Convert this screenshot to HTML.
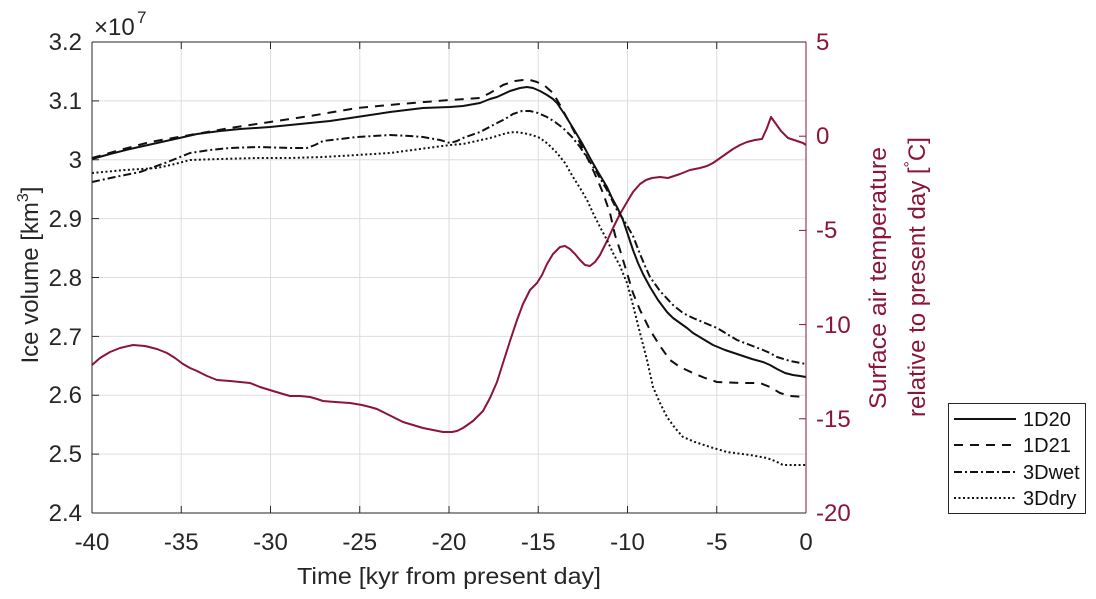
<!DOCTYPE html>
<html><head><meta charset="utf-8"><style>
html,body{margin:0;padding:0;background:#fff;}
svg{display:block;font-family:"Liberation Sans",Arial,sans-serif;}
</style></head><body>
<svg width="1096" height="599" viewBox="0 0 1096 599" xmlns="http://www.w3.org/2000/svg">
<rect width="1096" height="599" fill="#fff"/>
<!-- grid -->
<g stroke="#dedede" stroke-width="1">
<line x1="181.25" y1="42" x2="181.25" y2="513"/><line x1="270.5" y1="42" x2="270.5" y2="513"/>
<line x1="359.75" y1="42" x2="359.75" y2="513"/><line x1="449" y1="42" x2="449" y2="513"/>
<line x1="538.25" y1="42" x2="538.25" y2="513"/><line x1="627.5" y1="42" x2="627.5" y2="513"/>
<line x1="716.75" y1="42" x2="716.75" y2="513"/>
<line x1="92" y1="100.9" x2="806" y2="100.9"/><line x1="92" y1="159.75" x2="806" y2="159.75"/>
<line x1="92" y1="218.6" x2="806" y2="218.6"/><line x1="92" y1="277.5" x2="806" y2="277.5"/>
<line x1="92" y1="336.4" x2="806" y2="336.4"/><line x1="92" y1="395.25" x2="806" y2="395.25"/>
<line x1="92" y1="454.1" x2="806" y2="454.1"/>
</g>
<!-- series -->
<g fill="none" stroke-linejoin="round" stroke-width="2">
<polyline stroke="#8a1538" points="92,365 100,358 110,352 120,348 133,345 145,346 157,349 167,353 175,358 183,364 190,368 197,371 207,376 217,380 230,381 240,382 250,383 260,387 273,391 283,394 290,396 300,396 310,397 317,399 323,401 335,402 350,403 362,405 370,407 377,409 383,412 393,417 403,422 413,425 423,428 433,430 443,432 452,432 457,431 463,428 473,421 483,411 490,398 497,382 503,363 510,341 517,320 523,304 530,290 537,283 542,275 547,264 553,254 560,247 565,246 570,249 575,254 580,260 585,265 590,266 595,262 600,255 607,241 613,228 620,214 627,202 633,192 640,184 646,180 652,178 660,177 668,178 680,174 690,170 700,168 707,166 713,163 723,156 733,149 740,145 747,142 755,140 762,139 767,128 771,117 776,124 781,131 788,138 797,141 803,143 806,145"/>
<polyline stroke="#111" points="92,159 110,154 130,149 157,143 175,139 197,134 220,131 240,129 270,127 300,124 330,121 357,117 390,112 423,108 450,107 463,106 480,103 490,99 497,97 510,91 520,88 527,87 533,88 540,91 547,95 553,99 557,103 565,115 573,128 582,143 590,158 598,172 607,187 612,198 618,209 623,220 628,235 633,250 638,263 643,274 650,287 658,300 667,312 673,318 680,323 687,328 693,333 703,339 713,345 725,350 740,355 752,359 763,362 770,365 777,369 785,373 793,375 800,376 806,377"/>
<polyline stroke="#111" stroke-dasharray="9 7" points="92,158 120,150 150,142 190,135 230,128 270,122 310,116 357,108 400,104 450,100 480,98 490,93 503,85 515,81 523,80 530,80 537,82 545,86 553,93 560,105 567,118 577,137 585,153 593,170 598,181 603,193 610,213 615,235 620,250 627,273 633,293 640,310 650,330 660,346 670,360 680,367 693,373 705,378 717,382 740,383 760,383 770,387 780,393 790,396 806,397"/>
<polyline stroke="#111" stroke-dasharray="8 3 2 3" points="92,182 115,177 140,172 165,163 190,153 210,150 230,148 257,147 290,148 307,148 315,145 323,141 340,139 357,137 390,135 410,136 423,137 440,140 450,143 457,141 463,138 480,132 497,123 505,119 513,114 522,111 530,111 538,113 547,117 555,122 563,128 572,137 580,147 588,159 597,173 607,190 617,210 625,222 633,236 640,254 645,266 650,277 660,291 673,305 683,313 693,318 705,323 717,328 727,334 737,340 750,345 763,350 770,353 777,357 790,361 806,364"/>
<polyline stroke="#111" stroke-dasharray="2 2.5" points="92,173 125,170 157,168 175,164 190,160 220,159 257,158 290,158 323,157 357,155 390,153 420,149 450,145 463,144 490,138 507,133 515,132 523,133 532,135 540,138 548,144 557,153 565,163 573,177 580,188 587,200 593,213 600,227 607,240 613,253 620,266 627,283 633,305 640,333 647,360 653,387 660,403 667,417 675,428 683,437 695,442 710,447 727,452 750,455 767,458 775,461 783,465 795,465 806,465"/>
</g>
<!-- axes -->
<g stroke="#262626" stroke-width="1" fill="none">
<line x1="92" y1="42" x2="806" y2="42"/>
<line x1="92" y1="513" x2="806" y2="513"/>
<line x1="92" y1="42" x2="92" y2="513"/>
<line x1="92" y1="100.9" x2="99" y2="100.9"/><line x1="92" y1="159.75" x2="99" y2="159.75"/>
<line x1="92" y1="218.6" x2="99" y2="218.6"/><line x1="92" y1="277.5" x2="99" y2="277.5"/>
<line x1="92" y1="336.4" x2="99" y2="336.4"/><line x1="92" y1="395.25" x2="99" y2="395.25"/>
<line x1="92" y1="454.1" x2="99" y2="454.1"/>
<line x1="181.25" y1="513" x2="181.25" y2="506"/><line x1="270.5" y1="513" x2="270.5" y2="506"/>
<line x1="359.75" y1="513" x2="359.75" y2="506"/><line x1="449" y1="513" x2="449" y2="506"/>
<line x1="538.25" y1="513" x2="538.25" y2="506"/><line x1="627.5" y1="513" x2="627.5" y2="506"/>
<line x1="716.75" y1="513" x2="716.75" y2="506"/>
<line x1="181.25" y1="42" x2="181.25" y2="49"/><line x1="270.5" y1="42" x2="270.5" y2="49"/>
<line x1="359.75" y1="42" x2="359.75" y2="49"/><line x1="449" y1="42" x2="449" y2="49"/>
<line x1="538.25" y1="42" x2="538.25" y2="49"/><line x1="627.5" y1="42" x2="627.5" y2="49"/>
<line x1="716.75" y1="42" x2="716.75" y2="49"/>
</g>
<g stroke="#8a1538" stroke-width="1">
<line x1="806" y1="42" x2="806" y2="513"/>
<line x1="806" y1="136.2" x2="799" y2="136.2"/><line x1="806" y1="230.4" x2="799" y2="230.4"/>
<line x1="806" y1="324.6" x2="799" y2="324.6"/><line x1="806" y1="418.8" x2="799" y2="418.8"/>
</g>
<!-- left tick labels -->
<g fill="#262626" font-size="24" text-anchor="end">
<text x="82" y="50">3.2</text><text x="82" y="109">3.1</text><text x="82" y="168">3</text>
<text x="82" y="227">2.9</text><text x="82" y="286">2.8</text><text x="82" y="345">2.7</text>
<text x="82" y="403">2.6</text><text x="82" y="462">2.5</text><text x="82" y="521">2.4</text>
</g>
<!-- bottom tick labels -->
<g fill="#262626" font-size="24" text-anchor="middle">
<text x="92" y="550">-40</text><text x="181.25" y="550">-35</text><text x="270.5" y="550">-30</text>
<text x="359.75" y="550">-25</text><text x="449" y="550">-20</text><text x="538.25" y="550">-15</text>
<text x="627.5" y="550">-10</text><text x="716.75" y="550">-5</text><text x="806" y="550">0</text>
</g>
<text x="449" y="584" font-size="23" fill="#262626" text-anchor="middle" textLength="304" lengthAdjust="spacingAndGlyphs">Time [kyr from present day]</text>
<!-- exponent -->
<text x="94" y="35" font-size="24" fill="#262626">×10</text>
<text x="137" y="23" font-size="17" fill="#262626">7</text>
<!-- right tick labels -->
<g fill="#8a1538" font-size="24">
<text x="816" y="50">5</text><text x="816" y="144">0</text><text x="816" y="238">-5</text>
<text x="816" y="333">-10</text><text x="816" y="427">-15</text><text x="816" y="521">-20</text>
</g>
<!-- y labels -->
<text transform="translate(38,275) rotate(-90)" font-size="24" fill="#262626" text-anchor="middle">Ice volume [km<tspan dy="-10" font-size="16">3</tspan><tspan dy="10">]</tspan></text>
<text transform="translate(886,278) rotate(-90)" font-size="24" fill="#8a1538" text-anchor="middle" textLength="262" lengthAdjust="spacingAndGlyphs">Surface air temperature</text>
<text transform="translate(925,277) rotate(-90)" font-size="24" fill="#8a1538" text-anchor="middle">relative to present day [<tspan dy="-10" font-size="16">°</tspan><tspan dy="10">C]</tspan></text>
<!-- legend -->
<rect x="948.5" y="403.5" width="137" height="110" fill="#fff" stroke="#262626" stroke-width="1"/>
<g fill="none" stroke="#111" stroke-width="2">
<line x1="954" y1="419" x2="1016" y2="419"/>
<line x1="954" y1="445" x2="1016" y2="445" stroke-dasharray="9 7"/>
<line x1="954" y1="472" x2="1016" y2="472" stroke-dasharray="8 3 2 3"/>
<line x1="954" y1="498" x2="1016" y2="498" stroke-dasharray="2 2.5"/>
</g>
<g fill="#111" font-size="20">
<text x="1023" y="426">1D20</text><text x="1023" y="452">1D21</text>
<text x="1023" y="479">3Dwet</text><text x="1023" y="505">3Ddry</text>
</g>
</svg>
</body></html>
